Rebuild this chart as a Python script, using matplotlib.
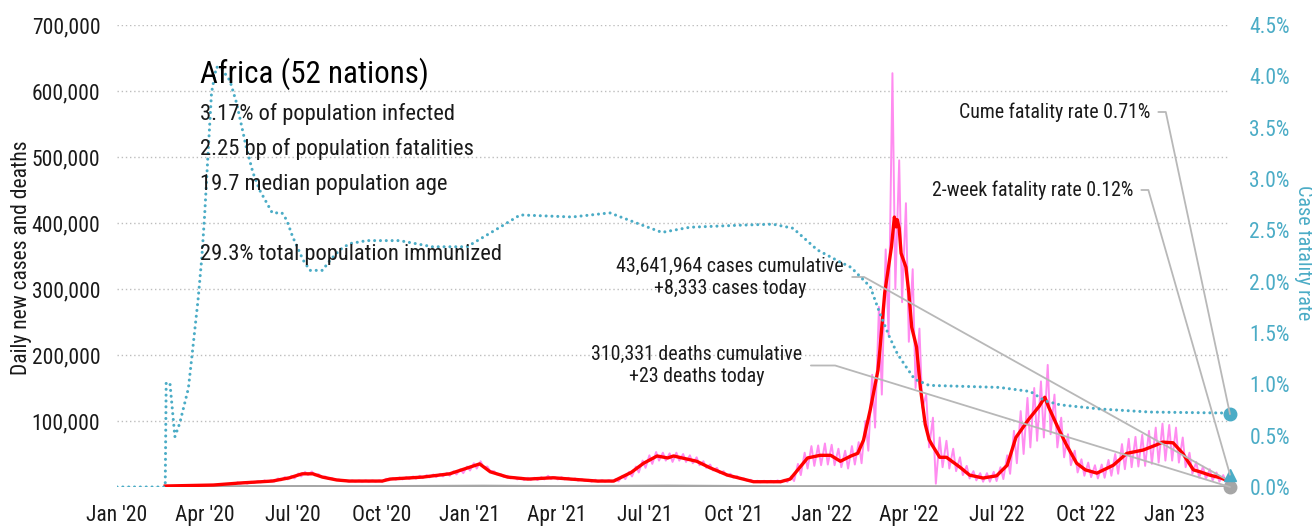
import matplotlib.pyplot as plt
import matplotlib.dates as mdates
from matplotlib import font_manager
from matplotlib.ticker import FuncFormatter, MultipleLocator
import pandas as pd

# prefer a narrow sans if one is installed, else fall back to Roboto at a smaller size
narrow = None
for want in ('Liberation Sans Narrow', 'Roboto Condensed', 'Noto Sans', 'DejaVu Sans'):
    for f in font_manager.fontManager.ttflist:
        if f.name == want and f.style == 'normal' and f.weight in (400, 'normal', 'regular') \
                and (f.stretch != 'normal' or 'Narrow' in f.fname or 'Condensed' in f.fname) \
                and 'Extra' not in f.fname and 'Ultra' not in f.fname:
            narrow = f
            break
    if narrow:
        break
if narrow:
    plt.rcParams['font.family'] = [narrow.name, 'DejaVu Sans']
    plt.rcParams['font.stretch'] = narrow.stretch if narrow.stretch != 'normal' else 'condensed'
    FS = 1.0
else:
    plt.rcParams['font.family'] = ['Roboto', 'DejaVu Sans']
    FS = 0.86

# 7-day average of daily new cases (thousands)
red_dates = ['2020-02-20', '2020-04-10', '2020-05-07', '2020-06-10', '2020-06-28', '2020-07-11',
             '2020-07-22', '2020-08-01', '2020-08-16', '2020-08-29', '2020-10-02', '2020-10-10',
             '2020-11-13', '2020-12-11', '2020-12-29',
             '2021-01-11', '2021-01-22', '2021-02-09', '2021-03-02', '2021-03-28', '2021-05-13',
             '2021-05-30', '2021-06-17', '2021-06-30', '2021-07-14', '2021-07-25', '2021-07-31',
             '2021-08-24', '2021-09-07', '2021-09-25', '2021-10-22', '2021-11-19', '2021-11-29',
             '2021-12-17', '2021-12-30',
             '2022-01-10', '2022-01-20', '2022-01-31', '2022-02-07', '2022-02-13', '2022-02-20',
             '2022-02-28', '2022-03-02', '2022-03-07', '2022-03-14', '2022-03-17', '2022-03-19',
             '2022-03-20', '2022-03-22', '2022-03-24', '2022-03-29', '2022-04-01', '2022-04-04',
             '2022-04-09', '2022-04-13', '2022-04-18', '2022-04-22', '2022-04-25', '2022-05-03',
             '2022-05-10', '2022-05-24', '2022-06-03', '2022-06-17', '2022-07-01', '2022-07-12',
             '2022-07-21', '2022-08-03', '2022-08-14', '2022-08-20', '2022-08-24', '2022-09-02',
             '2022-09-11', '2022-09-22', '2022-10-01', '2022-10-13', '2022-10-30', '2022-11-13',
             '2022-11-30', '2022-12-14', '2022-12-20', '2022-12-31',
             '2023-01-10', '2023-01-21', '2023-01-28', '2023-02-07', '2023-02-18', '2023-02-28']
red_k = [1.5, 3, 6, 9, 14, 20, 20, 15, 10.6, 9, 9, 12, 15, 20, 28.7,
         35, 23, 15, 12, 14, 9, 9, 22, 36, 47, 44, 47, 39, 29, 18, 8, 8, 12, 44, 48,
         48, 39, 47, 51, 71, 117, 177, 208, 294, 364, 409, 394, 405, 392, 354, 333, 294, 242,
         212, 150, 95, 72, 64, 45, 45, 30, 18, 13.6, 17, 33, 75, 102, 122, 136, 121, 92,
         65, 36, 26, 21, 33, 51, 56, 64, 68, 67,
         51, 26, 23, 18, 14, 8]

# raw daily cases: weekly high and low (thousands), weeks starting 2020-05-04
week_start = '2020-05-04'
pink_hi = [7, 7.5, 8, 9, 10, 10.5, 13, 15, 17, 20.5, 23, 23.5, 19.5, 16, 13.5, 11.5, 10, 10, 10, 10,
           10, 10, 12.5, 13.5, 14.5, 15, 16, 17, 18, 19, 20, 21.5, 24, 27, 31, 36, 39, 31, 24, 19.5,
           17, 15, 14, 14, 14, 15, 17, 15, 15, 14, 13, 12, 11, 11, 10.5, 10.5, 12,
           17, 23, 31, 40, 48, 53, 52, 51, 52, 50, 48, 45, 39, 34, 29, 24, 20, 16.5, 13, 11,
           9.5, 9.5, 9.5, 10, 11, 16, 35, 52, 62, 63, 66, 64, 58, 55, 62, 68, 100, 170, 273, 360,
           627, 495, 430, 330, 240, 140, 105, 75, 70, 58, 45, 32, 24, 21, 21, 23, 30, 48, 85, 115,
           135, 150, 160, 185, 140, 105, 80, 55, 42, 37, 33, 34, 41, 50, 65, 73, 76, 79, 85, 90,
           96, 94, 90, 75, 52, 38, 31, 27, 22, 18, 12]
pink_lo = [5, 5, 6, 7, 7.5, 8, 10, 11.5, 13, 16, 18, 17.5, 15, 12.5, 10.5, 9, 8, 8, 8, 8,
           8, 8, 10, 11, 11.5, 12, 12.5, 13.5, 14.5, 15, 16, 17, 19, 21, 25, 28, 30, 24, 19, 15,
           13, 11.5, 10.5, 10.5, 10.5, 11.5, 12, 11.5, 11.5, 10.5, 9.5, 9, 8, 8, 8, 8, 8.5,
           12, 16, 22, 29, 35, 40, 40, 38, 40, 38, 36, 33, 29, 25, 21, 17, 14, 12, 9.5, 7.5,
           7, 7, 7, 7, 7.5, 9, 18, 28, 32, 33, 34, 33, 30, 28, 34, 36, 55, 90, 140, 230,
           300, 280, 220, 150, 120, 60, 5, 30, 28, 24, 18, 13, 10, 8, 8, 9, 12, 20, 36, 50,
           60, 70, 75, 80, 60, 45, 33, 22, 17, 15, 13, 14, 17, 20, 27, 30, 31, 32, 35, 37,
           40, 40, 37, 30, 20, 14, 12, 10, 8, 7, 5]

# daily deaths (7-day average)
death_dates = ['2020-02-20', '2020-07-20', '2020-09-15', '2021-01-15', '2021-04-01', '2021-07-25',
               '2021-11-15', '2022-01-10', '2022-06-01', '2022-09-01', '2023-02-28']
death_vals = [0, 400, 200, 900, 300, 1000, 150, 250, 60, 100, 23]

# case fatality rate (%)
cfr_dates = ['2020-01-01', '2020-02-20', '2020-02-21', '2020-02-25', '2020-03-01', '2020-03-06',
             '2020-03-15', '2020-03-19', '2020-03-25', '2020-03-29', '2020-04-01', '2020-04-04',
             '2020-04-08', '2020-04-13', '2020-04-18', '2020-04-27', '2020-05-04', '2020-05-14',
             '2020-05-21', '2020-05-28', '2020-06-10', '2020-06-20', '2020-06-25', '2020-07-01',
             '2020-07-12', '2020-07-19', '2020-08-01', '2020-08-09', '2020-08-19', '2020-08-29',
             '2020-09-16', '2020-10-20', '2020-11-23', '2020-12-29', '2021-02-01', '2021-02-22',
             '2021-04-17', '2021-05-26', '2021-06-23', '2021-07-19', '2021-08-17', '2021-10-08',
             '2021-11-11', '2021-12-02', '2021-12-27', '2022-01-20', '2022-01-31', '2022-02-20',
             '2022-03-02', '2022-03-12', '2022-03-20', '2022-03-27', '2022-04-07', '2022-04-22',
             '2022-07-04', '2022-08-05', '2022-08-20', '2022-09-05', '2022-10-16', '2022-12-07',
             '2023-02-28']
cfr_pct = [0, 0, 1.02, 1.0, 0.49, 0.62, 0.96, 1.3, 1.82, 2.24, 2.67, 3.18,
           3.84, 4.09, 4.08, 3.96, 3.74, 3.31, 3.06, 2.89, 2.67, 2.67, 2.6, 2.44,
           2.21, 2.11, 2.11, 2.21, 2.31, 2.37, 2.40, 2.40, 2.34, 2.34, 2.53, 2.65,
           2.63, 2.67, 2.57, 2.48, 2.53, 2.55, 2.56, 2.52, 2.31, 2.19, 2.14, 1.95,
           1.69, 1.46, 1.3, 1.2, 1.05, 0.99, 0.97, 0.93, 0.84, 0.80, 0.76, 0.73, 0.72]

last_day = pd.Timestamp('2023-02-28')
cases_today = 8333
deaths_today = 23
cfr_cume = 0.71
cfr_2wk = 0.12

BLUE = '#4bacc6'
GREY = '#a6a6a6'
LEAD = '#b8b8b8'
INK = '#1a1a1a'

fig = plt.figure(figsize=(13.12, 5.29), dpi=100)
ax = fig.add_axes([117 / 1312, 42 / 529, 1113 / 1312, 462 / 529])
ax2 = ax.twinx()

# raw daily cases zig-zag
weeks = pd.date_range(week_start, periods=len(pink_hi), freq='7D')
pink_x, pink_y = [], []
for w, hi, lo in zip(weeks, pink_hi, pink_lo):
    pink_x += [w + pd.Timedelta(days=1), w + pd.Timedelta(days=4)]
    pink_y += [hi * 1000, lo * 1000]
ax.plot(pink_x, pink_y, color='#ff8cf0', lw=1.4, zorder=2)
ax.plot(pd.to_datetime(red_dates), [v * 1000 for v in red_k], color='#ff0000', lw=2.4, zorder=3)
ax.plot(pd.to_datetime(death_dates), death_vals, color=GREY, lw=2.5, zorder=2)
ax.plot([last_day], [deaths_today], 'o', color=GREY, ms=9, clip_on=False, zorder=5)

ax2.plot(pd.to_datetime(cfr_dates), [v / 100 for v in cfr_pct], color=BLUE, lw=2.2,
         linestyle=(0, (0.01, 1.9)), dash_capstyle='round', zorder=3)
ax2.plot([last_day], [cfr_cume / 100], 'o', color=BLUE, ms=9, clip_on=False, zorder=5)
ax2.plot([last_day], [cfr_2wk / 100], '^', color=BLUE, ms=9, clip_on=False, zorder=5)

ax.set_xlim(pd.Timestamp('2020-01-01'), last_day)
ax.set_ylim(0, 700000)
ax2.set_ylim(0, 0.045)

ax.yaxis.set_major_locator(MultipleLocator(100000))
ax.yaxis.set_major_formatter(FuncFormatter(lambda v, p: f'{v:,.0f}' if v > 0 else ''))
ax2.yaxis.set_major_locator(MultipleLocator(0.005))
ax2.yaxis.set_major_formatter(FuncFormatter(lambda v, p: f'{v * 100:.1f}%'))

ax.xaxis.set_major_locator(mdates.MonthLocator(bymonth=[1, 4, 7, 10]))
ax.xaxis.set_major_formatter(mdates.DateFormatter("%b '%y"))

ax.grid(axis='y', color='#bdbdbd', linestyle=(0, (1, 2)), lw=1.0)
ax.set_axisbelow(True)
for a in (ax, ax2):
    for s in a.spines.values():
        s.set_visible(False)
ax.tick_params(axis='x', length=0, pad=13, labelsize=15.5 * FS, labelcolor=INK)
ax.tick_params(axis='y', length=0, pad=12, labelsize=15.5 * FS, labelcolor=INK)
ax2.tick_params(axis='y', length=0, pad=14, labelsize=15.5 * FS, labelcolor=BLUE)

fig.text(22 / 1312, 1 - 258 / 529, 'Daily new cases and deaths', rotation=90,
         ha='center', va='center', fontsize=15.5 * FS, color=INK)
fig.text(1304 / 1312, 1 - 253 / 529, 'Case fatality rate', rotation=270,
         ha='center', va='center', fontsize=14.5 * FS, color=BLUE)

# summary block
tx = 200 / 1312
fig.text(tx, 1 - 83 / 529, 'Africa (52 nations)', fontsize=22.3 * FS, va='baseline', color='#000000')
for yy, s in [(120, '3.17% of population infected'),
              (155, '2.25 bp of population fatalities'),
              (190, '19.7 median population age'),
              (260, '29.3% total population immunized')]:
    fig.text(tx, 1 - yy / 529, s, fontsize=16.2 * FS, va='baseline', color=INK)

# callouts with leader lines
def callout(axis, yval, text, xy_px, angle_b, ha='right'):
    axis.annotate(text, xy=(last_day, yval), xycoords='data',
                  xytext=xy_px, textcoords='figure pixels',
                  ha=ha, va='center', fontsize=14.3 * FS, color=INK, multialignment='center',
                  arrowprops=dict(arrowstyle='-', color=LEAD, lw=1.3, relpos=(1, 0.5),
                                  shrinkA=4, shrinkB=0,
                                  connectionstyle=f'angle,angleA=0,angleB={angle_b},rad=0'),
                  annotation_clip=False, zorder=6)

callout(ax2, cfr_cume / 100, f'Cume fatality rate {cfr_cume:.2f}%', (1150, 529 - 112), 102)
callout(ax2, cfr_2wk / 100, f'2-week fatality rate {cfr_2wk:.2f}%', (1133, 529 - 190), 106)
callout(ax, cases_today, f'43,641,964 cases cumulative\n+{cases_today:,} cases today',
        (730, 529 - 277), 150.8, ha='center')
callout(ax, deaths_today, f'310,331 deaths cumulative\n+{deaths_today} deaths today',
        (697, 529 - 365.5), 162.9, ha='center')

fig.savefig('out.png', dpi=100)
